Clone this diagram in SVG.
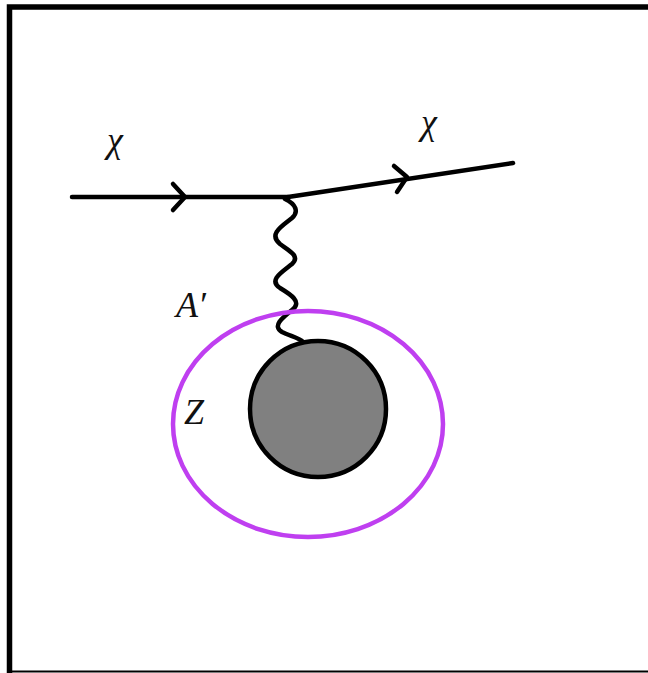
<svg xmlns="http://www.w3.org/2000/svg" width="648" height="673" viewBox="0 0 648 673">
<style>
.ln{fill:none;stroke:#000;stroke-width:4.5;stroke-linecap:round;stroke-linejoin:round}
.lbl{font-family:"Liberation Serif","DejaVu Serif",serif;font-style:italic;font-size:36px;fill:#111}
</style>
<rect width="648" height="673" fill="#fff"/>
<path d="M9.5 676 V7 H652" fill="none" stroke="#000" stroke-width="5.5"/>
<line x1="9" y1="671.5" x2="648" y2="671.5" stroke="#000" stroke-width="2"/>
<g id="connectors">
<g id="chi-in">
<line class="ln" x1="72" y1="197" x2="288" y2="197"/>
<path class="ln" d="M173 184 L185 197 L173 210"/>
</g>
<g id="chi-out">
<line class="ln" x1="288" y1="197" x2="513" y2="163"/>
<path class="ln" d="M394 166 L407 177 L397 192"/>
</g>
<g id="photon">
<path class="ln" d="M285 199 C296 204 299 212 292 218 C282 226 268 234 280 244 C288 250 301 256 292 264 C282 272 268 280 280 288 C290 294 303 302 292 310 C282 318 272 326 282 332 C290 336 300 338 303 342"/>
</g>
</g>
<g id="nucleus">
<ellipse cx="308" cy="424" rx="135" ry="113" fill="none" stroke="#bf3ff0" stroke-width="4.5"/>
<circle cx="318" cy="409" r="68" fill="#808080" stroke="#000" stroke-width="4.5"/>
</g>
<g id="labels">
<text class="lbl" x="107" y="152">χ</text>
<text class="lbl" x="421" y="134">χ</text>
<text class="lbl" x="176" y="317">A′</text>
<text class="lbl" x="184" y="424">Z</text>
</g>
</svg>
